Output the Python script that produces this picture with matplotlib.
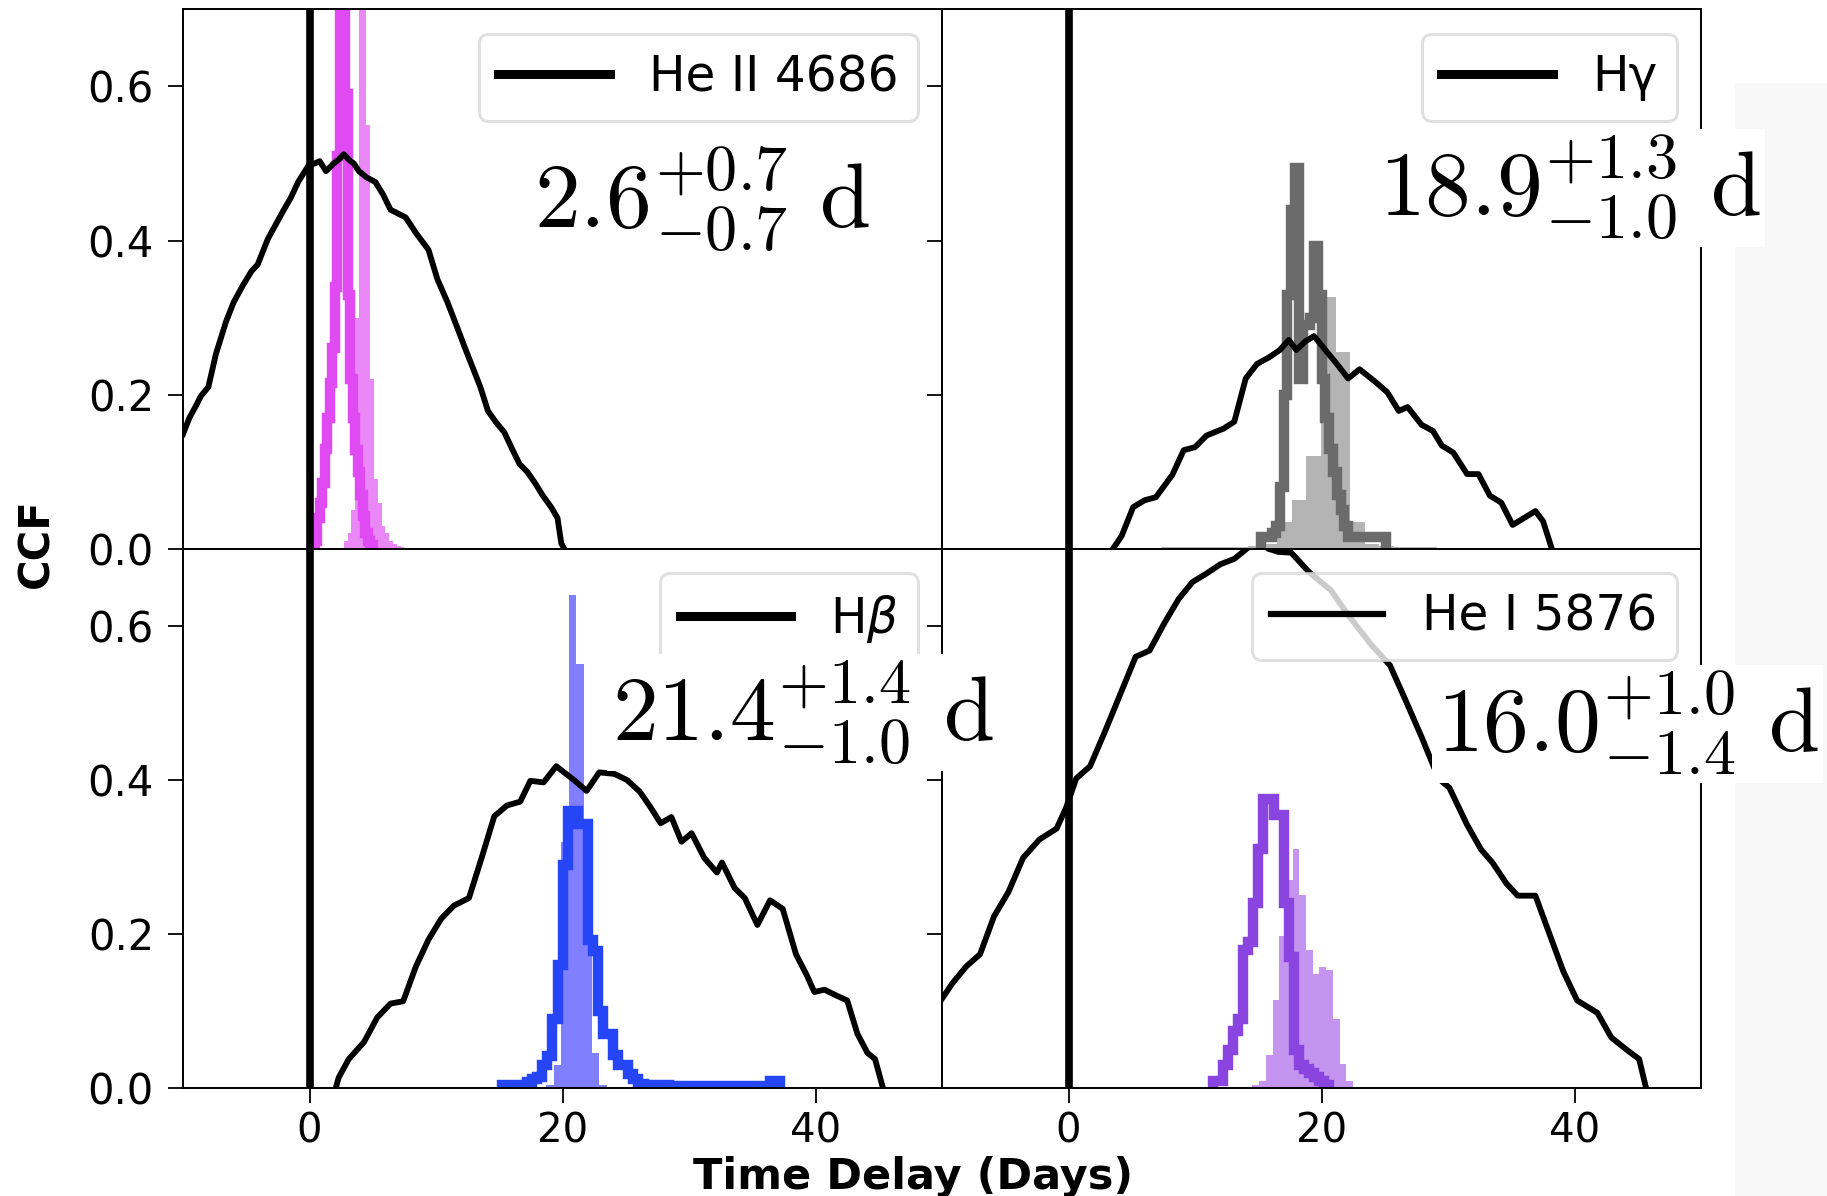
import numpy as np
import matplotlib
matplotlib.use("Agg")
import matplotlib.pyplot as plt
from matplotlib.patches import Rectangle

# ---------------- data ----------------
line_names = ["He II 4686", "Hγ", r"H$\beta$", "He I 5876"]
lag_texts = [r"$2.6^{+0.7}_{-0.7}\ \mathrm{d}$",
             r"$18.9^{+1.3}_{-1.0}\ \mathrm{d}$",
             r"$21.4^{+1.4}_{-1.0}\ \mathrm{d}$",
             r"$16.0^{+1.0}_{-1.4}\ \mathrm{d}$"]

# CCF curves
heii_x = [-10, -9.5, -9.0, -8.6, -8.0, -7.4, -6.6, -6.0, -5.3, -4.6, -4.1, -3.3, -2.7, -2.1, -1.5,
          -0.9, -0.1, 0.4, 0.8, 1.3, 1.9, 2.3, 2.7, 3.1, 3.5, 3.9, 4.5, 5.2, 5.8, 6.4, 7.0, 7.6,
          8.4, 9.4, 10.1, 10.9, 11.7, 12.3, 12.9, 13.5, 14.1, 14.7, 15.4, 16.0, 16.6, 17.2, 17.8,
          18.4, 19.1, 19.6, 19.9, 20.3, 20.6]
heii_ccf = [0.149, 0.17, 0.185, 0.198, 0.21, 0.253, 0.295, 0.32, 0.341, 0.36, 0.369, 0.402, 0.42,
            0.438, 0.455, 0.476, 0.497, 0.50, 0.503, 0.49, 0.50, 0.505, 0.512, 0.505, 0.50, 0.49,
            0.482, 0.476, 0.46, 0.44, 0.435, 0.43, 0.41, 0.388, 0.35, 0.32, 0.286, 0.26, 0.235,
            0.21, 0.179, 0.165, 0.151, 0.13, 0.110, 0.10, 0.086, 0.07, 0.054, 0.04, 0.007, -0.005, -0.02]

hg_x = [3.1, 4.2, 5.1, 6.0, 6.9, 8.2, 9.1, 10.0, 10.9, 12.25, 13.1, 14.0, 14.9, 15.8, 16.7, 17.4,
        18.0, 18.7, 19.4, 20.3, 21.2, 22.1, 23.0, 24.3, 25.2, 26.1, 26.8, 27.9, 28.8, 29.5, 30.4,
        31.5, 32.4, 33.3, 34.2, 35.1, 36.0, 36.9, 37.5, 38.4]
hg_ccf = [-0.01, 0.017, 0.054, 0.063, 0.067, 0.096, 0.128, 0.132, 0.147, 0.156, 0.165, 0.221, 0.24,
          0.248, 0.258, 0.271, 0.258, 0.269, 0.276, 0.258, 0.24, 0.221, 0.233, 0.216, 0.203, 0.179,
          0.184, 0.161, 0.153, 0.134, 0.125, 0.097, 0.097, 0.069, 0.06, 0.031, 0.04, 0.049, 0.036, -0.01]

hb_x = [1.9, 2.3, 3.1, 4.3, 5.35, 6.4, 7.4, 8.4, 9.4, 10.4, 11.4, 12.6, 13.6, 14.6, 15.6, 16.65,
        17.45, 18.5, 19.5, 20.9, 21.9, 22.9, 24.1, 25.1, 26.1, 26.9, 27.75, 28.6, 29.4, 30.2, 31.2,
        32.2, 32.6, 33.6, 34.4, 35.4, 36.4, 37.4, 38.45, 39.3, 39.9, 40.7, 41.7, 42.5, 43.3, 44.1,
        44.7, 45.5]
hb_ccf = [-0.01, 0.014, 0.038, 0.06, 0.092, 0.11, 0.113, 0.158, 0.193, 0.22, 0.237, 0.247, 0.299,
          0.353, 0.367, 0.372, 0.399, 0.397, 0.418, 0.40, 0.386, 0.41, 0.408, 0.40, 0.385, 0.366,
          0.344, 0.352, 0.32, 0.331, 0.299, 0.28, 0.293, 0.26, 0.247, 0.212, 0.244, 0.233, 0.174,
          0.147, 0.125, 0.128, 0.12, 0.114, 0.071, 0.046, 0.038, -0.01]

hei_x = [-10.1, -9.2, -8.1, -7.0, -5.9, -4.75, -3.6, -2.3, -0.95, -0.2, 0.6, 1.7, 2.85, 4.2, 5.3,
         6.4, 7.55, 8.7, 9.8, 10.9, 12.0, 13.1, 14.3, 15.0, 15.8, 16.6, 17.6, 19.0, 20.75, 22.1,
         23.9, 25.4, 26.6, 27.9, 29.25, 30.1, 31.5, 32.6, 33.5, 34.6, 35.5, 36.9, 37.75, 39.1,
         40.2, 41.8, 42.9, 44.2, 45.1, 45.8]
hei_ccf = [0.114, 0.136, 0.158, 0.174, 0.223, 0.255, 0.299, 0.323, 0.337, 0.364, 0.402, 0.418,
           0.462, 0.516, 0.56, 0.568, 0.603, 0.635, 0.657, 0.668, 0.68, 0.687, 0.703, 0.712, 0.70,
           0.696, 0.695, 0.67, 0.646, 0.614, 0.576, 0.549, 0.505, 0.456, 0.402, 0.39, 0.342, 0.31,
           0.293, 0.266, 0.25, 0.25, 0.212, 0.152, 0.114, 0.098, 0.066, 0.049, 0.038, -0.01]

# lag distributions: outlined histogram (step) and filled histogram (bars)
heii_step_edges = np.round(np.arange(0.4, 5.01, 0.2), 2)
heii_step = [0.01, 0.04, 0.06, 0.085, 0.13, 0.17, 0.215, 0.26, 0.34, 0.51, 1.1, 0.85, 0.59,
             0.33, 0.22, 0.17, 0.128, 0.10, 0.07, 0.042, 0.02, 0.01, 0.005]
heii_bar_edges = np.round(np.arange(2.7, 7.51, 0.3), 2)
heii_bar = [0.01, 0.02, 0.05, 0.3, 1.0, 0.95, 0.55, 0.22, 0.09, 0.06, 0.03, 0.02, 0.01,
            0.006, 0.004, 0.003]

hg_step_edges = np.round(np.arange(15.2, 25.11, 0.3), 2)
hg_step = [0.015, 0.015, 0.015, 0.02, 0.03, 0.08, 0.2, 0.33, 0.44, 0.494, 0.22, 0.29, 0.29,
           0.30, 0.393, 0.33, 0.22, 0.17, 0.13, 0.10, 0.07, 0.05, 0.03, 0.015, 0.015, 0.015,
           0.015, 0.015, 0.015, 0.015, 0.015, 0.015, 0.015]
hg_bar_edges = np.round(np.arange(7.3, 29.2, 1.15), 2)
hg_bar = [0.002, 0.002, 0.003, 0.002, 0.003, 0.003, 0.004, 0.006, 0.035, 0.064, 0.12, 0.327,
          0.255, 0.035, 0.006, 0.004, 0.003, 0.003, 0.002]

hb_step_edges = np.round(np.arange(15.2, 37.21, 0.4), 2)
hb_step = [0.005, 0.004, 0.003, 0.003, 0.005, 0.008, 0.012, 0.015, 0.03, 0.042, 0.09, 0.16, 0.29,
           0.36, 0.36, 0.343, 0.343, 0.193, 0.178, 0.10, 0.07, 0.07, 0.043, 0.03, 0.03, 0.019,
           0.012, 0.006, 0.005, 0.004, 0.004, 0.004, 0.004, 0.003, 0.003, 0.003, 0.003, 0.003,
           0.003, 0.003, 0.003, 0.003, 0.003, 0.003, 0.003, 0.003, 0.003, 0.003, 0.003, 0.003,
           0.003, 0.003, 0.003, 0.01, 0.01]
hb_bar_edges = np.round(np.arange(18.7, 23.51, 0.6), 2)
hb_bar = [0.005, 0.03, 0.32, 0.64, 0.55, 0.2, 0.046, 0.005]

hei_step_edges = np.round(np.arange(11.4, 20.61, 0.4), 2)
hei_step = [0.01, 0.01, 0.03, 0.05, 0.075, 0.09, 0.18, 0.19, 0.24, 0.31, 0.375, 0.375, 0.355,
            0.355, 0.24, 0.17, 0.05, 0.03, 0.025, 0.02, 0.015, 0.01, 0.005]
hei_bar_edges = np.round(np.arange(14.53, 22.5, 0.53), 2)
hei_bar = [0.005, 0.01, 0.043, 0.115, 0.198, 0.27, 0.311, 0.251, 0.18, 0.149, 0.158, 0.154,
           0.09, 0.032, 0.009]

panels = [
    (heii_x, heii_ccf, heii_step_edges, heii_step, heii_bar_edges, heii_bar),
    (hg_x, hg_ccf, hg_step_edges, hg_step, hg_bar_edges, hg_bar),
    (hb_x, hb_ccf, hb_step_edges, hb_step, hb_bar_edges, hb_bar),
    (hei_x, hei_ccf, hei_step_edges, hei_step, hei_bar_edges, hei_bar),
]
step_colors = ["#e04af3", "#6b6b6b", "#2545f7", "#8a45e0"]
bar_colors = ["#e040f5", "#6b6b6b", "#0000ff", "#8a2be2"]
bar_alpha = [0.62, 0.5, 0.5, 0.5]
text_pos = [(0.462, 0.596), (0.575, 0.618), (0.565, 0.646), (0.652, 0.624)]
handle_lw = [6.5, 6.5, 6.5, 4.5]

# ---------------- figure ----------------
plt.rcParams["font.family"] = ["DejaVu Sans"]
fig = plt.figure(figsize=(18.27, 11.96), dpi=100)
axes = fig.subplots(2, 2, sharex=True, sharey=True)
fig.subplots_adjust(left=0.1002, right=0.9311, top=0.9922, bottom=0.09, wspace=0, hspace=0)

# light grey strip at the right edge of the screenshot
fig.patches.append(Rectangle((1735 / 1827, 0), 92 / 1827, 1 - 83 / 1196,
                             transform=fig.transFigure, facecolor="#f8f8f8",
                             edgecolor="none", zorder=-5))

for i, ax in enumerate(axes.flat):
    x, ccf, s_edges, s_h, b_edges, b_h = panels[i]
    ax.bar(b_edges[:-1], b_h, width=np.diff(b_edges), align="edge",
           color=bar_colors[i], alpha=bar_alpha[i], linewidth=0, zorder=1)
    ax.stairs(s_h, s_edges, color=step_colors[i], linewidth=7.5, zorder=2)
    ax.plot(x, ccf, color="black", linewidth=4.2, label=line_names[i], zorder=3,
            solid_joinstyle="round")
    ax.axvline(0, color="black", linewidth=5.5, zorder=4)

    leg = ax.legend(loc="upper right", fontsize=35, handlelength=2.3,
                    borderaxespad=0.5, fancybox=True, framealpha=0.8)
    leg.get_frame().set_linewidth(2.2)
    leg.get_frame().set_edgecolor("0.85")
    for h in leg.get_lines():
        h.set_linewidth(handle_lw[i])

    fig.text(text_pos[i][0], text_pos[i][1], lag_texts[i], transform=ax.transAxes,
             fontsize=66, math_fontfamily="cm", ha="left", va="baseline", zorder=10,
             bbox=dict(facecolor="white", edgecolor="none", pad=3))

    for sp in ax.spines.values():
        sp.set_linewidth(1.4)
    ax.tick_params(axis="y", direction="out", length=11, width=1.3, labelsize=30, pad=10)
    ax.tick_params(axis="x", direction="out", length=11, width=1.3, labelsize=29, pad=6)

axes[0, 0].set_xlim(-10, 50)
axes[0, 0].set_ylim(0, 0.7)
axes[0, 0].set_xticks([0, 20, 40])
axes[0, 0].set_yticks([0.0, 0.2, 0.4, 0.6])
for ax in axes[0]:
    ax.tick_params(axis="x", length=0)

fig.text(0.02, 0.546, "CCF", rotation=90, fontsize=30, fontweight="bold",
         ha="center", va="center")
fig.text(0.5, 0.016, "Time Delay (Days)", fontsize=31, fontweight="bold",
         ha="center", va="center")

fig.savefig("out.png", dpi=100)
